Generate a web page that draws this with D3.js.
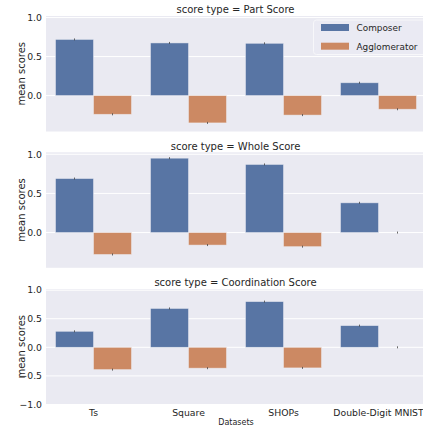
<!DOCTYPE html>
<html>
<head>
<meta charset="utf-8">
<script src="https://cdn.jsdelivr.net/npm/d3@7"></script>
<style>
  html, body { margin: 0; padding: 0; background: #fff; }
  svg { display: block; font-family: "DejaVu Sans", sans-serif; }
</style>
</head>
<body>
<svg id="chart" width="423" height="425"></svg>
<script>
// ── Data ─────────────────────────────────────────────────────────────────────
const datasets   = ['Ts', 'Square', 'SHOPs', 'Double-Digit MNIST'];
const methods    = ['Composer', 'Agglomerator'];
const scoreTypes = ['Part Score', 'Whole Score', 'Coordination Score'];

const partComposer       = [0.72, 0.675, 0.67, 0.165];
const partAgglomerator   = [-0.24, -0.35, -0.25, -0.175];
const wholeComposer      = [0.69, 0.95, 0.87, 0.38];
const wholeAgglomerator  = [-0.28, -0.16, -0.18, 0.0];
const coordComposer      = [0.28, 0.68, 0.80, 0.38];
const coordAgglomerator  = [-0.39, -0.365, -0.36, 0.0];

const yDomains = [[-0.46, 1.02], [-0.45, 1.025], [-1.0, 1.02]];
const yTicks   = [-1.0, -0.5, 0.0, 0.5, 1.0];

const panelValues = [
  [partComposer, partAgglomerator],
  [wholeComposer, wholeAgglomerator],
  [coordComposer, coordAgglomerator],
];

// ── Style ────────────────────────────────────────────────────────────────────
const COLORS   = { 'Composer': '#5875a4', 'Agglomerator': '#cc8963' };
const BG       = '#eaeaf2';
const TEXT     = '#262626';

const svg = d3.select('#chart');
const plotLeft = 46, plotRight = 426;
const panelTops = [16, 152.3, 289];
const panelH = 115.5;

const x0 = d3.scaleBand().domain(datasets).range([plotLeft, plotRight]).padding(0);
const x1 = d3.scaleBand().domain(methods)
  .range([x0.bandwidth() * 0.1, x0.bandwidth() * 0.9]).padding(0);

scoreTypes.forEach((st, pi) => {
  const top = panelTops[pi];
  const y = d3.scaleLinear().domain(yDomains[pi]).range([top + panelH, top]);
  const g = svg.append('g');

  g.append('rect')
    .attr('x', plotLeft).attr('y', top)
    .attr('width', plotRight - plotLeft).attr('height', panelH)
    .attr('fill', BG);

  const ticks = yTicks.filter(t => t >= yDomains[pi][0] - 1e-9 && t <= yDomains[pi][1]);

  // grid
  g.selectAll('line.grid').data(ticks).join('line')
    .attr('x1', plotLeft).attr('x2', plotRight)
    .attr('y1', d => y(d)).attr('y2', d => y(d))
    .attr('stroke', '#fff').attr('stroke-width', 1);

  // y tick labels
  g.selectAll('text.ytick').data(ticks).join('text')
    .attr('x', 42).attr('y', d => y(d) + 3.3)
    .attr('text-anchor', 'end')
    .attr('font-size', '9.3px').attr('fill', TEXT)
    .text(d => d3.format('.1f')(d).replace('-', '\u2212'));

  // y label
  g.append('text')
    .attr('transform', `translate(24.5,${top + panelH / 2}) rotate(-90)`)
    .attr('text-anchor', 'middle')
    .attr('font-size', '10px').attr('fill', TEXT)
    .text('mean scores');

  // title
  g.append('text')
    .attr('x', (plotLeft + plotRight) / 2 - 0.5).attr('y', top - 2.8)
    .attr('text-anchor', 'middle')
    .attr('font-size', '10px').attr('fill', TEXT)
    .text(`score type = ${st}`);

  // bars
  methods.forEach((m, mi) => {
    const vals = panelValues[pi][mi];
    const grp = g.append('g');
    grp.selectAll('rect').data(vals).join('rect')
      .attr('x', (d, i) => x0(datasets[i]) + x1(m))
      .attr('y', d => Math.min(y(d), y(0)))
      .attr('width', x1.bandwidth())
      .attr('height', d => Math.abs(y(d) - y(0)))
      .attr('fill', COLORS[m])
      .attr('stroke', d => d === 0 ? 'none' : '#f0f0f5')
      .attr('stroke-opacity', 0.6)
      .attr('stroke-width', 0.8);
    // small error ticks
    grp.selectAll('line').data(vals).join('line')
      .attr('x1', (d, i) => x0(datasets[i]) + x1(m) + x1.bandwidth() / 2)
      .attr('x2', (d, i) => x0(datasets[i]) + x1(m) + x1.bandwidth() / 2)
      .attr('y1', d => y(d) - 1).attr('y2', d => y(d) + 1)
      .attr('stroke', '#444').attr('stroke-width', 0.8);
  });

  // legend on first panel
  if (pi === 0) {
    const lg = g.append('g');
    lg.append('rect')
      .attr('x', 313.5).attr('y', 20).attr('width', 120).attr('height', 34.5)
      .attr('rx', 3).attr('fill', BG).attr('fill-opacity', 0.8)
      .attr('stroke', '#f7f7fa').attr('stroke-width', 1);
    methods.forEach((m, mi) => {
      const cy = 27.5 + mi * 18.7;
      lg.append('rect')
        .attr('x', 321).attr('y', cy - 3.5).attr('width', 28).attr('height', 7)
        .attr('fill', COLORS[m]);
      lg.append('text')
        .attr('x', 356.5).attr('y', cy + 3.3)
        .attr('font-size', '8.9px').attr('fill', TEXT)
        .text(m);
    });
  }

  // x tick labels on bottom panel
  if (pi === scoreTypes.length - 1) {
    g.selectAll('text.xtick').data(datasets).join('text')
      .attr('x', d => x0(d) + x0.bandwidth() / 2)
      .attr('y', top + panelH + 11.5)
      .attr('text-anchor', 'middle')
      .attr('font-size', '9.3px').attr('fill', TEXT)
      .text(d => d);
    g.append('text')
      .attr('x', (plotLeft + plotRight) / 2).attr('y', 424.5)
      .attr('text-anchor', 'middle')
      .attr('font-size', '8px').attr('fill', TEXT)
      .text('Datasets');
  }
});
</script>
</body>
</html>
